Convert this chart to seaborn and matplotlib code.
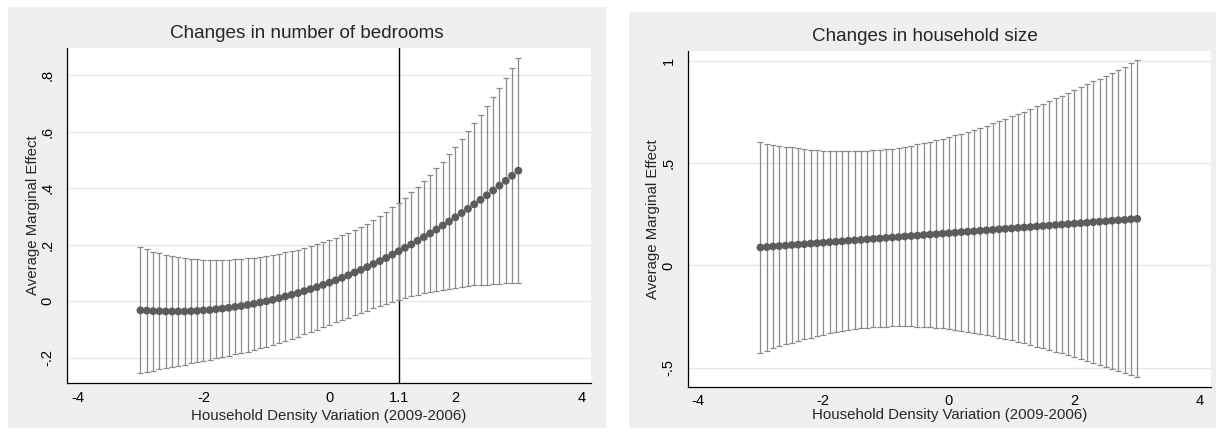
import numpy as np
import matplotlib
matplotlib.use("Agg")
import matplotlib.pyplot as plt
import seaborn as sns
from matplotlib.patches import Rectangle

# household density variation grid (same for both panels)
density = [-3.0, -2.9, -2.8, -2.7, -2.6, -2.5, -2.4, -2.3, -2.2, -2.1,
           -2.0, -1.9, -1.8, -1.7, -1.6, -1.5, -1.4, -1.3, -1.2, -1.1,
           -1.0, -0.9, -0.8, -0.7, -0.6, -0.5, -0.4, -0.3, -0.2, -0.1,
           0.0, 0.1, 0.2, 0.3, 0.4, 0.5, 0.6, 0.7, 0.8, 0.9,
           1.0, 1.1, 1.2, 1.3, 1.4, 1.5, 1.6, 1.7, 1.8, 1.9,
           2.0, 2.1, 2.2, 2.3, 2.4, 2.5, 2.6, 2.7, 2.8, 2.9, 3.0]

# left panel: number of bedrooms
bed_me = [-0.032, -0.033, -0.035, -0.035, -0.036, -0.036, -0.036, -0.036, -0.035, -0.034,
          -0.032, -0.031, -0.028, -0.026, -0.023, -0.020, -0.017, -0.013, -0.009, -0.004,
          0.000, 0.005, 0.011, 0.017, 0.023, 0.029, 0.036, 0.043, 0.050, 0.058,
          0.066, 0.074, 0.083, 0.092, 0.102, 0.111, 0.121, 0.132, 0.142, 0.153,
          0.165, 0.177, 0.189, 0.201, 0.214, 0.227, 0.240, 0.254, 0.268, 0.282,
          0.297, 0.312, 0.327, 0.343, 0.359, 0.375, 0.392, 0.409, 0.426, 0.444, 0.462]
bed_lo = [-0.255, -0.250, -0.246, -0.241, -0.236, -0.232, -0.228, -0.224, -0.219, -0.215,
          -0.211, -0.207, -0.202, -0.198, -0.193, -0.188, -0.183, -0.178, -0.172, -0.166,
          -0.160, -0.153, -0.147, -0.140, -0.132, -0.125, -0.117, -0.109, -0.101, -0.092,
          -0.084, -0.075, -0.067, -0.058, -0.050, -0.041, -0.033, -0.025, -0.017, -0.009,
          -0.002, 0.005, 0.011, 0.017, 0.023, 0.028, 0.033, 0.037, 0.041, 0.045,
          0.048, 0.051, 0.054, 0.056, 0.058, 0.059, 0.061, 0.062, 0.063, 0.063, 0.064]
bed_hi = [0.192, 0.184, 0.176, 0.170, 0.164, 0.160, 0.155, 0.152, 0.150, 0.148,
          0.146, 0.145, 0.145, 0.146, 0.146, 0.148, 0.149, 0.152, 0.154, 0.157,
          0.160, 0.164, 0.168, 0.173, 0.178, 0.183, 0.189, 0.195, 0.201, 0.208,
          0.216, 0.224, 0.233, 0.242, 0.253, 0.264, 0.275, 0.288, 0.302, 0.316,
          0.332, 0.349, 0.366, 0.385, 0.405, 0.426, 0.447, 0.470, 0.494, 0.520,
          0.546, 0.573, 0.601, 0.630, 0.660, 0.691, 0.723, 0.756, 0.790, 0.825, 0.860]

# right panel: household size
size_me = [0.088, 0.090, 0.093, 0.095, 0.097, 0.100, 0.102, 0.104, 0.107, 0.109,
           0.111, 0.114, 0.116, 0.118, 0.121, 0.123, 0.125, 0.128, 0.130, 0.132,
           0.135, 0.137, 0.139, 0.142, 0.144, 0.146, 0.149, 0.151, 0.153, 0.156,
           0.158, 0.160, 0.163, 0.165, 0.167, 0.170, 0.172, 0.174, 0.177, 0.179,
           0.181, 0.184, 0.186, 0.188, 0.191, 0.193, 0.195, 0.198, 0.200, 0.202,
           0.205, 0.207, 0.209, 0.212, 0.214, 0.216, 0.219, 0.221, 0.223, 0.226, 0.228]
size_lo = [-0.426, -0.416, -0.405, -0.396, -0.386, -0.377, -0.369, -0.361, -0.353, -0.346,
           -0.339, -0.332, -0.327, -0.321, -0.316, -0.312, -0.308, -0.305, -0.303, -0.300,
           -0.299, -0.298, -0.297, -0.297, -0.298, -0.299, -0.301, -0.303, -0.305, -0.308,
           -0.311, -0.315, -0.320, -0.324, -0.329, -0.335, -0.340, -0.346, -0.353, -0.359,
           -0.366, -0.373, -0.381, -0.389, -0.397, -0.405, -0.413, -0.422, -0.430, -0.439,
           -0.448, -0.458, -0.467, -0.476, -0.486, -0.496, -0.506, -0.516, -0.526, -0.536, -0.547]
size_hi = [0.602, 0.596, 0.591, 0.586, 0.581, 0.577, 0.573, 0.569, 0.566, 0.564,
           0.561, 0.560, 0.559, 0.558, 0.558, 0.558, 0.559, 0.561, 0.563, 0.565,
           0.568, 0.572, 0.576, 0.581, 0.586, 0.592, 0.598, 0.605, 0.612, 0.619,
           0.627, 0.636, 0.645, 0.654, 0.664, 0.674, 0.684, 0.695, 0.706, 0.717,
           0.729, 0.741, 0.753, 0.765, 0.778, 0.791, 0.804, 0.817, 0.830, 0.844,
           0.858, 0.872, 0.886, 0.900, 0.914, 0.929, 0.943, 0.958, 0.973, 0.988, 1.003]

sns.set_theme(style="white")
plt.rcParams['font.family'] = ['Liberation Sans', 'DejaVu Sans']

W, H = 1217, 440
fig = plt.figure(figsize=(W / 100, H / 100), dpi=100)
fig.patch.set_facecolor('white')

# light gray graph regions behind each panel
for x0, y0, x1, y1 in [(8, 7, 606, 428), (629, 12, 1216, 428)]:
    fig.patches.append(Rectangle((x0 / W, 1 - y1 / H), (x1 - x0) / W, (y1 - y0) / H,
                                 transform=fig.transFigure, facecolor='#efefef',
                                 edgecolor='none', zorder=-1))


def panel(box, me, lo, hi, xlim, ylim, xticks, xlabels, yticks, ylabels, xpad):
    l, t, r, b = box
    ax = fig.add_axes([l / W, 1 - b / H, (r - l) / W, (b - t) / H])
    ax.set_facecolor('white')
    x = np.array(density)
    me, lo, hi = np.array(me), np.array(lo), np.array(hi)
    ax.errorbar(x, me, yerr=[me - lo, hi - me], fmt='none', ecolor='#8a8a8a',
                elinewidth=0.9, capsize=2.0, capthick=0.9, zorder=2)
    sns.scatterplot(x=x, y=me, ax=ax, color='#5c5c5c', s=32, edgecolor='none', zorder=3)
    ax.set_xlim(*xlim)
    ax.set_ylim(*ylim)
    ax.set_xticks(xticks, xlabels, fontsize=10.5)
    ax.set_yticks(yticks, ylabels, fontsize=10.5, rotation=90, va='center')
    ax.grid(axis='y', color='#e8e8e8', lw=1)
    ax.set_axisbelow(True)
    for s in ['top', 'right']:
        ax.spines[s].set_visible(False)
    for s in ['left', 'bottom']:
        ax.spines[s].set_color('black')
        ax.spines[s].set_linewidth(0.9)
    ax.tick_params(axis='both', direction='out', length=4, width=0.8, color='black',
                   labelcolor='black')
    ax.tick_params(axis='x', pad=xpad)
    ax.tick_params(axis='y', pad=5)
    return ax


axL = panel((67, 47.7, 591, 382.7), bed_me, bed_lo, bed_hi, (-4.167, 4.154), (-0.288, 0.897),
            [-4, -2, 0, 1.1, 2, 4], ['-4', '-2', '0', '1.1', '2', '4'],
            [-0.2, 0, 0.2, 0.4, 0.6, 0.8], ['-.2', '0', '.2', '.4', '.6', '.8'], 2.0)
axL.axvline(1.1, color='black', lw=1, zorder=1)
axR = panel((688, 51, 1211, 386.7), size_me, size_lo, size_hi, (-4.154, 4.175), (-0.593, 1.049),
            [-4, -2, 0, 2, 4], ['-4', '-2', '0', '2', '4'],
            [-0.5, 0, 0.5, 1], ['-.5', '0', '.5', '1'], 1.0)

fig.text(307 / W, 1 - 33 / H, 'Changes in number of bedrooms', ha='center', va='center', fontsize=13.6)
fig.text(925 / W, 1 - 36.7 / H, 'Changes in household size', ha='center', va='center', fontsize=13.6)
fig.text(329 / W, 1 - 416 / H, 'Household Density Variation (2009-2006)', ha='center', va='center', fontsize=10.8)
fig.text(949.5 / W, 1 - 415 / H, 'Household Density Variation (2009-2006)', ha='center', va='center', fontsize=10.8)
fig.text(33 / W, 1 - 215 / H, 'Average Marginal Effect', ha='center', va='center', rotation=90, fontsize=10.8)
fig.text(652.7 / W, 1 - 219 / H, 'Average Marginal Effect', ha='center', va='center', rotation=90, fontsize=10.8)

fig.savefig('out.png', dpi=100)
